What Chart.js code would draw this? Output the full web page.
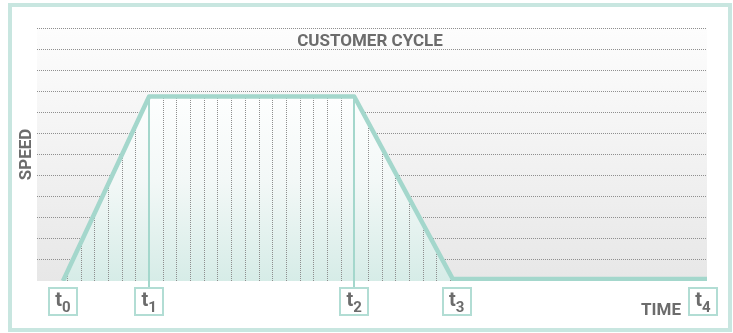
<!DOCTYPE html>
<html>
<head>
<meta charset="utf-8">
<title>Customer cycle</title>
<script src="https://cdn.jsdelivr.net/npm/chart.js@4.4.1/dist/chart.umd.min.js"></script>
<style>
  html, body { margin: 0; padding: 0; background: #fff; }
  canvas { display: block; }
</style>
</head>
<body>
<canvas id="cycleChart" width="733" height="333"></canvas>
<script>
// Speed profile over one customer cycle
const timeLabels = ['0', '1', '2', '3', '4'];      // subscripts of the t markers
const timeMarks = [-0.3, 6, 21, 28.5, 46.5];      // x position of each t box
const speedTime = [-0.3, 6, 21, 28.2, 46.8];
const speedValue = [0, 8.75, 8.75, 0.1, 0.1];

const TEAL = '#a4d7cc';
const BOX = '#b2ddd4';
const FRAME = '#c8e6e0';
const TEXT = '#6c6c6c';
const FONT = 'Roboto, "DejaVu Sans", sans-serif';

const decor = {
    id: 'cycleDecor',
    beforeDraw(chart) {
        const { ctx, chartArea: a } = chart;
        ctx.save();
        // outer frame
        ctx.strokeStyle = FRAME;
        ctx.lineWidth = 4;
        ctx.strokeRect(10, 5, 720, 325);
        // plot background
        const g = ctx.createLinearGradient(0, a.top, 0, a.bottom);
        g.addColorStop(0, '#fdfdfd');
        g.addColorStop(1, '#e7e7e7');
        ctx.fillStyle = g;
        ctx.fillRect(a.left, a.top, a.right - a.left, a.bottom - a.top);
        ctx.restore();
    },
    beforeDatasetDraw(chart, args) {
        // dotted time steps, only inside the filled area
        const { ctx, chartArea: a, scales: { x } } = chart;
        const pts = args.meta.data;
        ctx.save();
        ctx.beginPath();
        ctx.moveTo(pts[0].x, a.bottom);
        pts.forEach(p => ctx.lineTo(p.x, p.y));
        ctx.lineTo(pts[pts.length - 1].x, a.bottom);
        ctx.closePath();
        ctx.clip();
        ctx.strokeStyle = '#8e8e8e';
        ctx.lineWidth = 1;
        ctx.setLineDash([1, 1]);
        for (let v = Math.ceil(x.min); v <= x.max; v++) {
            if (timeMarks.includes(v)) continue;
            const px = Math.round(x.getPixelForValue(v)) + 0.5;
            ctx.beginPath();
            ctx.moveTo(px, a.top);
            ctx.lineTo(px, a.bottom);
            ctx.stroke();
        }
        ctx.restore();
    },
    afterDatasetsDraw(chart) {
        // solid guides from the plateau down to t1 and t2
        const { ctx, chartArea: a, scales: { x, y } } = chart;
        ctx.save();
        ctx.strokeStyle = TEAL;
        ctx.lineWidth = 2;
        [1, 2].forEach(i => {
            const px = Math.round(x.getPixelForValue(timeMarks[i]));
            ctx.beginPath();
            ctx.moveTo(px, y.getPixelForValue(speedValue[i]));
            ctx.lineTo(px, a.bottom + 6);
            ctx.stroke();
        });
        ctx.restore();
    },
    afterDraw(chart) {
        const { ctx, chartArea: a, scales: { x } } = chart;
        ctx.save();
        ctx.fillStyle = TEXT;

        ctx.font = 'bold 17px ' + FONT;
        ctx.textAlign = 'center';
        ctx.textBaseline = 'alphabetic';
        ctx.fillText('CUSTOMER CYCLE', (a.left + a.right) / 2 - 2, 46);

        ctx.textAlign = 'right';
        ctx.fillText('TIME', 681, 315);

        ctx.save();
        ctx.translate(31, (a.top + a.bottom) / 2);
        ctx.rotate(-Math.PI / 2);
        ctx.textAlign = 'center';
        ctx.fillText('SPEED', 0, 0);
        ctx.restore();

        // t markers in small boxes
        const top = a.bottom + 6;
        timeMarks.forEach((m, i) => {
            const cx = x.getPixelForValue(m);
            ctx.fillStyle = '#fff';
            ctx.fillRect(cx - 15, top, 30, 29);
            ctx.strokeStyle = BOX;
            ctx.lineWidth = 2;
            ctx.strokeRect(Math.round(cx - 15) + 1, top + 1, 28, 27);

            ctx.fillStyle = TEXT;
            ctx.textAlign = 'left';
            ctx.font = 'bold 20px ' + FONT;
            const wT = ctx.measureText('t').width;
            ctx.font = 'bold 15px ' + FONT;
            const wD = ctx.measureText(timeLabels[i]).width;
            const sx = cx - (wT + wD) / 2;
            ctx.font = 'bold 20px ' + FONT;
            ctx.fillText('t', sx, top + 19);
            ctx.font = 'bold 15px ' + FONT;
            ctx.fillText(timeLabels[i], sx + wT, top + 25);
        });
        ctx.restore();
    }
};

const ctxCycle = document.getElementById('cycleChart').getContext('2d');
new Chart(ctxCycle, {
    type: 'line',
    data: {
        datasets: [{
            label: 'Speed',
            data: speedTime.map((t, i) => ({ x: t, y: speedValue[i] })),
            borderColor: TEAL,
            borderWidth: 4.5,
            borderJoinStyle: 'round',
            pointRadius: 0,
            tension: 0,
            fill: 'origin',
            backgroundColor(c) {
                const { chart } = c;
                const { ctx, chartArea, scales } = chart;
                if (!chartArea) return 'rgba(0,0,0,0)';
                const yTop = scales.y.getPixelForValue(Math.max(...speedValue));
                const g = ctx.createLinearGradient(0, yTop, 0, chartArea.bottom);
                g.addColorStop(0, '#fdfefe');
                g.addColorStop(0.45, '#f3f8f7');
                g.addColorStop(1, '#d6ece7');
                return g;
            }
        }]
    },
    options: {
        responsive: false,
        animation: false,
        devicePixelRatio: 1,
        layout: { padding: { left: 37, right: 26, top: 28, bottom: 52 } },
        scales: {
            x: {
                type: 'linear',
                min: -2.2,
                max: 46.8,
                display: false
            },
            y: {
                min: 0,
                max: 12,
                ticks: { display: false, stepSize: 1 },
                grid: {
                    drawTicks: false,
                    color: c => (c.tick && c.tick.value === 0) ? 'rgba(0,0,0,0)' : '#8f8f8f'
                },
                border: { display: false, dash: [1, 1] }
            }
        },
        plugins: {
            legend: { display: false },
            tooltip: { enabled: false }
        }
    },
    plugins: [decor]
});
</script>
</body>
</html>
